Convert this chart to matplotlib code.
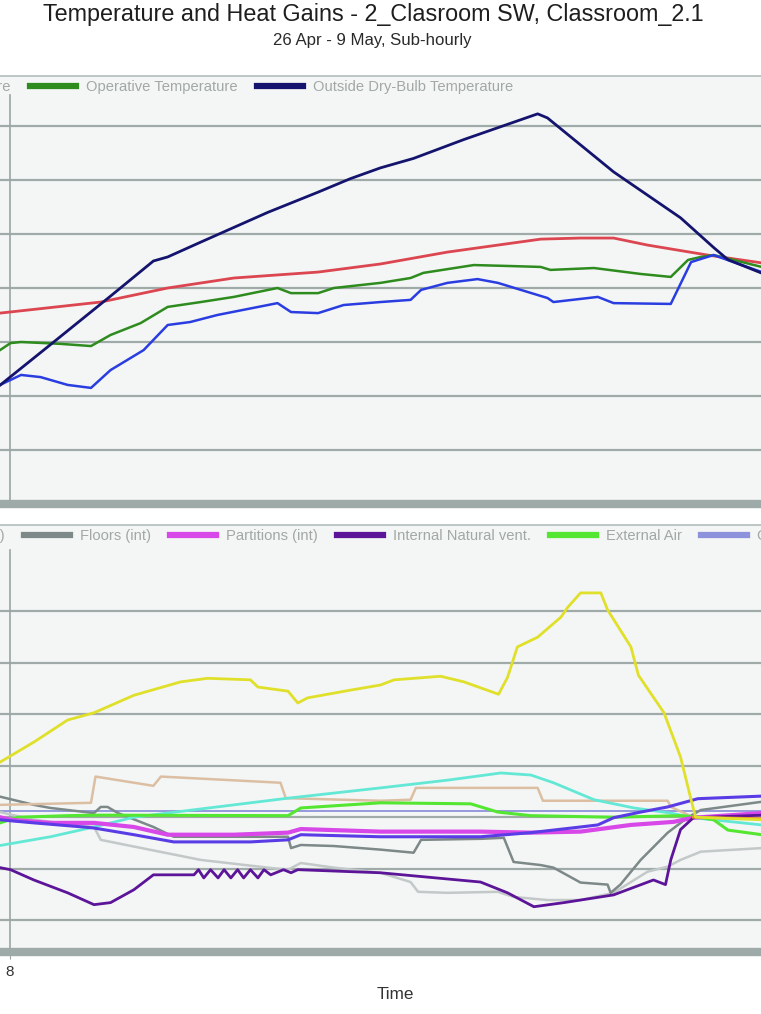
import matplotlib.pyplot as plt
from matplotlib.lines import Line2D

plt.rcParams['font.family'] = ['Liberation Sans', 'DejaVu Sans']

# ---- top panel: temperatures (deg C) vs time of day (h) ----
air_t = [7.87, 8.15, 8.41, 8.77, 9.08, 9.34, 9.78, 10.10, 10.40, 10.76, 11.56, 11.74, 12.10, 12.44,
         12.93, 13.33, 13.47, 13.82, 14.22, 14.49, 15.15, 15.23, 15.82, 16.03, 16.79, 17.06, 17.23,
         17.36, 18.0]
air = [14.41, 14.78, 14.70, 14.41, 14.30, 14.96, 15.70, 16.63, 16.74, 17.0, 17.44, 17.11, 17.07, 17.37,
       17.48, 17.56, 17.93, 18.19, 18.33, 18.19, 17.63, 17.48, 17.67, 17.44, 17.41, 18.96, 19.11,
       19.22, 18.59]

radiant_t = [7.87, 9.21, 10.10, 10.98, 12.10, 12.93, 13.82, 15.06, 15.59, 16.03, 16.48, 17.28, 18.0]
radiant = [17.07, 17.48, 18.0, 18.37, 18.59, 18.89, 19.33, 19.81, 19.85, 19.85, 19.59, 19.22, 18.93]

operative_t = [7.87, 8.01, 8.15, 8.68, 9.08, 9.34, 9.74, 10.10, 10.54, 10.98, 11.56, 11.74, 12.10, 12.31,
               12.93, 13.33, 13.50, 14.17, 14.70, 15.06, 15.19, 15.77, 16.39, 16.79, 17.02, 17.19,
               17.36, 18.0]
operative = [15.70, 15.96, 16.0, 15.93, 15.85, 16.26, 16.70, 17.30, 17.48, 17.67, 18.0, 17.81, 17.81, 18.0,
             18.19, 18.37, 18.56, 18.85, 18.81, 18.78, 18.67, 18.74, 18.52, 18.41, 19.04, 19.15,
             19.22, 18.78]

outside_t = [7.87, 8.54, 9.34, 9.91, 10.10, 10.54, 11.43, 12.10, 12.53, 12.93, 13.37, 14.04, 15.02,
             15.15, 16.03, 16.92, 17.36, 17.55, 18.0]
outside = [14.4, 15.9, 17.7, 19.0, 19.15, 19.7, 20.8, 21.55, 22.05, 22.45, 22.8, 23.5, 24.45,
           24.3, 22.3, 20.6, 19.5, 19.05, 18.55]

# ---- bottom panel: heat gains (kW) ----
solar_t = [7.87, 8.32, 8.77, 9.12, 9.65, 10.27, 10.63, 11.20, 11.30, 11.70, 11.83, 11.96, 12.53, 12.93,
           13.11, 13.73, 14.04, 14.50, 14.62, 14.75, 15.02, 15.33, 15.42, 15.59, 15.86, 15.95, 16.26,
           16.36, 16.70, 16.92, 17.06, 17.12, 18.0]
solar = [1.07, 1.46, 1.89, 2.03, 2.37, 2.63, 2.70, 2.67, 2.53, 2.45, 2.22, 2.32, 2.47, 2.57,
         2.67, 2.74, 2.63, 2.39, 2.72, 3.31, 3.50, 3.89, 4.08, 4.36, 4.36, 4.03, 3.31,
         2.76, 2.03, 1.17, 0.34, 0.0, -0.05]

occupancy_t = [7.87, 9.08, 9.14, 9.91, 10.01, 11.60, 11.67, 12.93, 13.33, 13.40, 15.02, 15.09, 16.75,
               16.79, 17.09, 18.0]
occupancy = [0.24, 0.28, 0.79, 0.61, 0.79, 0.67, 0.37, 0.32, 0.34, 0.57, 0.57, 0.32, 0.32,
             0.20, 0.0, -0.02]

glazing_t = [7.87, 8.54, 9.12, 9.65, 11.70, 12.93, 13.82, 14.53, 14.93, 15.23, 15.77, 16.30, 16.79, 17.09, 18.0]
glazing = [-0.55, -0.38, -0.19, 0.0, 0.37, 0.57, 0.72, 0.86, 0.82, 0.67, 0.34, 0.18, 0.08, -0.01, -0.15]

ext_air_t = [7.87, 8.11, 8.77, 9.21, 11.70, 11.87, 12.93, 14.13, 14.49, 14.93, 16.03, 16.92, 17.15,
             17.36, 17.55, 18.0]
ext_air = [-0.11, 0.0, 0.03, 0.04, 0.03, 0.18, 0.28, 0.26, 0.10, 0.03, 0.0, 0.03, 0.0,
           -0.05, -0.25, -0.34]

partitions_t = [7.87, 8.01, 8.54, 9.12, 9.65, 10.10, 10.98, 11.70, 11.87, 12.93, 14.26, 14.93, 15.59,
                16.26, 16.83, 17.09, 18.0]
partitions = [0.0, -0.05, -0.11, -0.11, -0.19, -0.34, -0.34, -0.30, -0.23, -0.28, -0.28, -0.30, -0.28,
              -0.15, -0.09, -0.01, 0.08]

nat_vent_t = [7.87, 8.01, 8.32, 8.77, 9.12, 9.34, 9.65, 9.91, 10.37, 10.45, 10.51, 10.58, 10.67, 10.77,
              10.85, 10.94, 11.03, 11.11, 11.20, 11.30, 11.38, 11.47, 11.64, 11.74, 11.83, 12.93,
              14.26, 14.62, 14.97, 15.37, 16.03, 16.56, 16.72, 16.79, 16.92, 17.09, 18.0]
nat_vent = [-0.98, -1.02, -1.22, -1.47, -1.70, -1.66, -1.41, -1.12, -1.12, -1.12, -1.02, -1.18, -1.02, -1.18,
            -1.02, -1.18, -1.02, -1.18, -1.02, -1.18, -1.02, -1.12, -1.02, -1.08, -1.02, -1.08,
            -1.26, -1.47, -1.74, -1.66, -1.51, -1.22, -1.31, -0.83, -0.24, -0.01, 0.04]

floors_t = [7.87, 8.32, 8.54, 9.12, 9.21, 9.30, 9.44, 9.91, 10.18, 11.70, 11.74, 11.87, 12.31, 12.93,
            13.37, 13.47, 14.26, 14.57, 14.70, 15.06, 15.23, 15.59, 15.95, 15.99, 16.12, 16.39,
            16.75, 17.02, 17.19, 18.0]
floors = [0.40, 0.24, 0.18, 0.08, 0.20, 0.20, 0.08, -0.19, -0.38, -0.38, -0.60, -0.54, -0.56, -0.63,
          -0.69, -0.44, -0.42, -0.40, -0.87, -0.93, -0.98, -1.27, -1.31, -1.47, -1.31, -0.83,
          -0.30, 0.0, 0.14, 0.30]

ceilings_t = [7.87, 8.32, 9.12, 9.21, 9.65, 10.54, 11.43, 11.70, 11.87, 12.31, 12.93, 13.33, 13.43,
              13.82, 14.49, 14.70, 15.15, 15.59, 16.03, 16.48, 16.75, 16.92, 17.19, 18.0]
ceilings = [0.10, -0.05, -0.19, -0.44, -0.57, -0.83, -0.98, -1.02, -0.89, -0.98, -1.08, -1.26, -1.45,
            -1.47, -1.45, -1.55, -1.61, -1.61, -1.47, -1.06, -0.96, -0.83, -0.67, -0.60]

walls_t = [7.87, 8.32, 8.98, 9.12, 9.65, 10.18, 11.20, 11.70, 11.87, 12.93, 14.26, 14.93, 15.59, 15.82,
           16.03, 16.39, 16.75, 17.15, 18.0]
walls = [-0.05, -0.11, -0.19, -0.21, -0.34, -0.48, -0.48, -0.44, -0.34, -0.38, -0.38, -0.30, -0.19, -0.15,
         -0.01, 0.10, 0.20, 0.36, 0.41]

equip_t = [7.87, 18.0]
equip = [0.13, 0.13]

heating_t = [17.09, 18.0]
heating = [0.0, -0.03]

W, H = 761, 1014
bg = '#f3f6f5'
grid_c = '#a0aaa8'
bar_c = '#9eaaa8'
leg_c = '#a2a8a7'

fig = plt.figure(figsize=(W / 100, H / 100), dpi=100)

fig.text(373 / W, 1 - 15 / H, 'Temperature and Heat Gains - 2_Clasroom SW, Classroom_2.1',
         ha='center', va='center', fontsize=16.8, color='#1e1e1e')
fig.text(372 / W, 1 - 41 / H, '26 Apr - 9 May, Sub-hourly',
         ha='center', va='center', fontsize=12.1, color='#2a2a2a')


def style_panel(ax, yticks, vtop):
    ax.set_facecolor(bg)
    ax.set_xlim(7.87, 17.99)
    ax.set_yticks(yticks)
    ax.grid(axis='y', color=grid_c, lw=1.6)
    ax.set_axisbelow(True)
    ax.axvline(8, ymax=vtop, color='#9aa5a3', lw=1.2, zorder=1)
    for s in ['left', 'right']:
        ax.spines[s].set_visible(False)
    ax.spines['top'].set_color('#b3bdbb')
    ax.spines['top'].set_linewidth(1.2)
    ax.spines['bottom'].set_color(bar_c)
    ax.spines['bottom'].set_linewidth(6)
    ax.tick_params(left=False, labelleft=False)


def place_legend(ax, handles, labels, idx, x_target, y_px):
    # legend runs past the figure edges, like the cropped screenshot
    kw = dict(ncol=len(labels), loc='center left', frameon=False, fontsize=10.6,
              handlelength=46 / 14.7, handletextpad=10 / 14.7, columnspacing=19 / 14.7,
              labelcolor=leg_c, bbox_transform=fig.transFigure)
    leg = ax.legend(handles, labels, bbox_to_anchor=(0, 1 - y_px / H), **kw)
    fig.canvas.draw()
    x0 = leg.get_texts()[idx].get_window_extent().x0
    leg.set_bbox_to_anchor(((x_target - x0) / W, 1 - y_px / H), transform=fig.transFigure)


# top panel
ax1 = fig.add_axes([0, 1 - 504 / H, 1, (504 - 76) / H])
style_panel(ax1, [12, 14, 16, 18, 20, 22, 24], (504 - 95) / 428)
ax1.set_ylim(10, 10 + 428 / 27)
ax1.set_xticks([])
ax1.plot(radiant_t, radiant, color='#dc4650', lw=2)
ax1.plot(operative_t, operative, color='#2e8b1e', lw=1.8)
ax1.plot(air_t, air, color='#2a3de0', lw=1.8)
ax1.plot(outside_t, outside, color='#14146e', lw=2)

top_cols = ['#2a3de0', '#dc4650', '#2e8b1e', '#14146e']
top_labels = ['Air Temperature', 'Radiant Temperature', 'Operative Temperature',
              'Outside Dry-Bulb Temperature']
place_legend(ax1, [Line2D([], [], color=c, lw=4.5) for c in top_cols], top_labels, 2, 86, 87)

# bottom panel
ax2 = fig.add_axes([0, 1 - 952 / H, 1, (952 - 525) / H])
style_panel(ax2, [-2, -1, 0, 1, 2, 3, 4], (952 - 550) / 427)
ax2.set_ylim(-2.62, 5.68)
ax2.plot(equip_t, equip, color='#8c92dc', lw=1.3)
ax2.plot(ceilings_t, ceilings, color='#c3c8c8', lw=1.8)
ax2.plot(floors_t, floors, color='#7d8888', lw=1.8)
ax2.plot(occupancy_t, occupancy, color='#dcbfa3', lw=1.8)
ax2.plot(glazing_t, glazing, color='#63e8d6', lw=2)
ax2.plot(ext_air_t, ext_air, color='#55e632', lw=2.2)
ax2.plot(partitions_t, partitions, color='#d848e8', lw=3)
ax2.plot(walls_t, walls, color='#5a3ce6', lw=2.2)
ax2.plot(nat_vent_t, nat_vent, color='#5c1499', lw=2)
ax2.plot(heating_t, heating, color='#f08c28', lw=2)
ax2.plot(solar_t, solar, color='#e0e02a', lw=2)

ax2.set_xticks([8])
ax2.set_xticklabels(['8'])
ax2.tick_params(axis='x', length=5, color='#9aa5a3', labelsize=11, labelcolor='#333333', pad=4)
ax2.set_xlabel('Time', fontsize=12.3, color='#333333')
ax2.xaxis.set_label_coords(395 / W, -0.082)

bot_cols = ['#63e8d6', '#5a3ce6', '#c3c8c8', '#7d8888', '#d848e8', '#5c1499', '#55e632',
            '#8c92dc', '#dcbfa3', '#e0e02a']
bot_labels = ['Glazing', 'Walls', 'Ceilings (int)', 'Floors (int)', 'Partitions (int)',
              'Internal Natural vent.', 'External Air', 'Computer + Equip', 'Occupancy',
              'Solar Gains Exterior Windows']
place_legend(ax2, [Line2D([], [], color=c, lw=4.5) for c in bot_cols], bot_labels, 3, 80, 536)

fig.savefig('out.png', dpi=100)
